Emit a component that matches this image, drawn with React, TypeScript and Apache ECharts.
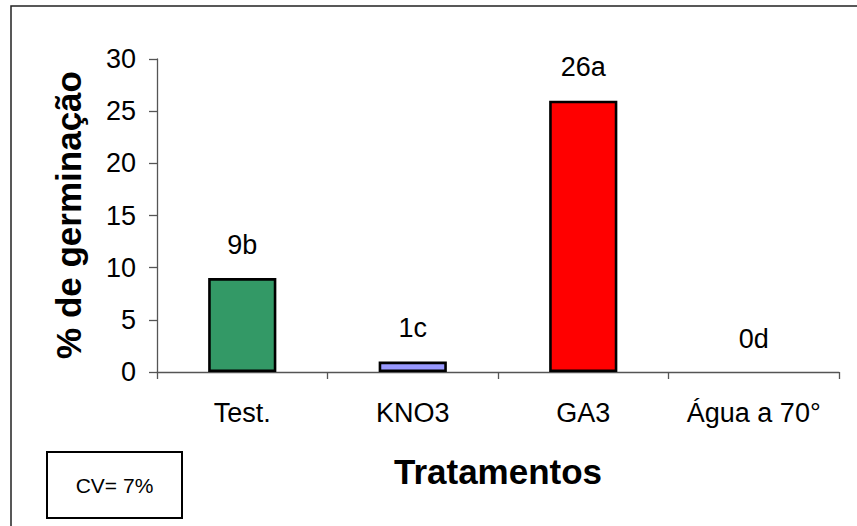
import React, { useEffect, useRef } from "react";
import * as echarts from "echarts";

const categories = ["Test.", "KNO3", "GA3", "Água a 70°"];
const values = [9, 1, 26, 0];
const letters = ["b", "c", "a", "d"];
const barColors = ["#339966", "#9999FF", "#FF0000", "#FFFFFF"];
const yTicks = { min: 0, max: 30, interval: 5 };
const yTitle = "% de germinação";
const xTitle = "Tratamentos";
const cvText = "CV= 7%";

const FONT = '"Liberation Sans", Arial, sans-serif';

export default function App() {
  const ref = useRef<HTMLDivElement>(null);
  useEffect(() => {
    if (!ref.current) return;
    const chart = echarts.init(ref.current, null, { renderer: "svg" });
    chart.setOption({
      animation: false,
      backgroundColor: "#ffffff",
      grid: { left: 157, right: 18, top: 59, bottom: 154, containLabel: false },
      xAxis: {
        type: "category",
        data: categories,
        axisLine: { lineStyle: { color: "#555", width: 1.3 } },
        axisTick: { show: true, alignWithLabel: false, length: 7, inside: false, lineStyle: { color: "#555", width: 1.3 } },
        axisLabel: { color: "#000", fontSize: 27, fontFamily: FONT, margin: 27, interval: 0 },
        splitLine: { show: false },
      },
      yAxis: {
        type: "value",
        min: yTicks.min,
        max: yTicks.max,
        interval: yTicks.interval,
        axisLine: { show: true, lineStyle: { color: "#555", width: 1.3 } },
        axisTick: { show: true, length: 8, inside: false, lineStyle: { color: "#555", width: 1.3 } },
        axisLabel: { color: "#000", fontSize: 27, fontFamily: FONT, margin: 21 },
        splitLine: { show: false },
      },
      series: [
        {
          type: "bar",
          barWidth: "40%",
          data: values.map((v, i) => ({
            value: v,
            itemStyle: {
              color: barColors[i],
              borderColor: "#000",
              borderWidth: v > 0 ? 2.6 : 0,
            },
          })),
          label: {
            show: true,
            position: "top",
            distance: 20,
            color: "#000",
            fontSize: 27,
            fontFamily: FONT,
            formatter: (p: any) => `${values[p.dataIndex]}${letters[p.dataIndex]}`,
          },
        },
      ],
      graphic: [
        {
          type: "rect",
          shape: { x: 11, y: 6, width: 900, height: 600 },
          style: { fill: "none", stroke: "#222", lineWidth: 1.5 },
          silent: true,
          z: -1,
        },
        {
          type: "text",
          x: 68,
          y: 215,
          rotation: Math.PI / 2,
          style: {
            text: yTitle,
            fontSize: 35,
            fontWeight: "bold",
            fontFamily: FONT,
            fill: "#000",
            align: "center",
            verticalAlign: "middle",
          },
        },
        {
          type: "text",
          x: 498,
          y: 471,
          style: {
            text: xTitle,
            fontSize: 35,
            fontWeight: "bold",
            fontFamily: FONT,
            fill: "#000",
            align: "center",
            verticalAlign: "middle",
          },
        },
        {
          type: "rect",
          shape: { x: 47, y: 452, width: 135, height: 66 },
          style: { fill: "#fff", stroke: "#000", lineWidth: 2 },
        },
        {
          type: "text",
          x: 114.5,
          y: 485,
          style: {
            text: cvText,
            fontSize: 21,
            fontFamily: FONT,
            fill: "#000",
            align: "center",
            verticalAlign: "middle",
          },
        },
      ],
    });
    return () => chart.dispose();
  }, []);
  return (
    <div
      ref={ref}
      style={{ position: "absolute", left: 0, top: 0, width: 857, height: 526 }}
    />
  );
}
